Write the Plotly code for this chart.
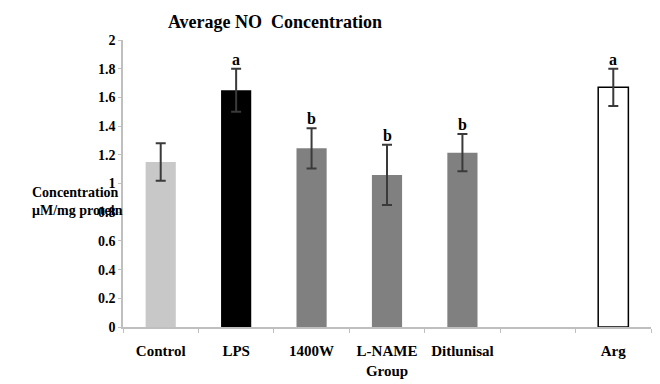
import plotly.graph_objects as go

categories = ["Control", "LPS", "1400W", "L-NAME", "Diflunisal", " ", "Arg"]
tick_labels = ["Control", "LPS", "1400W", "L-NAME", "Ditlunisal", "", "Arg"]
values = [1.15, 1.65, 1.245, 1.06, 1.215, None, 1.67]
errors = [0.13, 0.15, 0.14, 0.21, 0.13, 0, 0.13]
letters = ["", "a", "b", "b", "b", "", "a"]
fill_colors = ["#c8c8c8", "#000000", "#808080", "#808080", "#808080", "#ffffff", "#ffffff"]
line_colors = ["#c8c8c8", "#000000", "#808080", "#808080", "#808080", "#ffffff", "#000000"]
line_widths = [0, 0, 0, 0, 0, 0, 1.5]
y_ticks = [0, 0.2, 0.4, 0.6, 0.8, 1, 1.2, 1.4, 1.6, 1.8, 2]

FONT = "Times New Roman, Liberation Serif, DejaVu Serif, serif"

fig = go.Figure()
fig.add_trace(go.Bar(
    x=categories, y=values,
    marker=dict(color=fill_colors, line=dict(color=line_colors, width=line_widths)),
    error_y=dict(type="data", array=errors, visible=True, color="#3a3a3a", thickness=2, width=5),
    showlegend=False,
))

for c, v, e, l in zip(categories, values, errors, letters):
    if l and v is not None:
        fig.add_annotation(x=c, y=v + e, text="<b>" + l + "</b>", showarrow=False,
                           yanchor="bottom", yshift=-1,
                           font=dict(family=FONT, size=16, color="#000"))

fig.add_annotation(xref="paper", yref="paper", x=-0.176, y=0.439, xanchor="left",
                   text="<b>Concentration<br>μM/mg protein</b>", showarrow=False, align="left",
                   font=dict(family=FONT, size=14, color="#000"))

fig.update_layout(
    width=660, height=384,
    margin=dict(l=115, r=17, t=32, b=65),
    paper_bgcolor="white", plot_bgcolor="white",
    bargap=0.6,
    title=dict(text="<b>Average NO  Concentration</b>", x=0.4045, xanchor="center",
               y=0.9635, yanchor="middle",
               font=dict(family=FONT, size=18, color="#000")),
    xaxis=dict(
        type="category", categoryorder="array", categoryarray=categories,
        tickvals=categories, ticktext=["<b>" + t + "</b>" for t in tick_labels],
        tickson="boundaries", ticks="outside", ticklen=4, tickcolor="#bfbfbf",
        ticklabelstandoff=9,
        showline=True, linecolor="#bfbfbf", linewidth=1.5, showgrid=False,
        tickfont=dict(family=FONT, size=15, color="#000"),
        title=dict(text="<b>Group</b>", font=dict(family=FONT, size=15, color="#000"), standoff=8),
    ),
    yaxis=dict(
        range=[0, 2], tickvals=y_ticks,
        ticktext=["<b>%g</b>" % t for t in y_ticks],
        ticks="outside", ticklen=3, tickcolor="#bfbfbf",
        showline=True, linecolor="#bfbfbf", linewidth=1.5, showgrid=False, zeroline=False,
        tickfont=dict(family=FONT, size=14, color="#000"),
    ),
)

fig.write_html("out.html")
